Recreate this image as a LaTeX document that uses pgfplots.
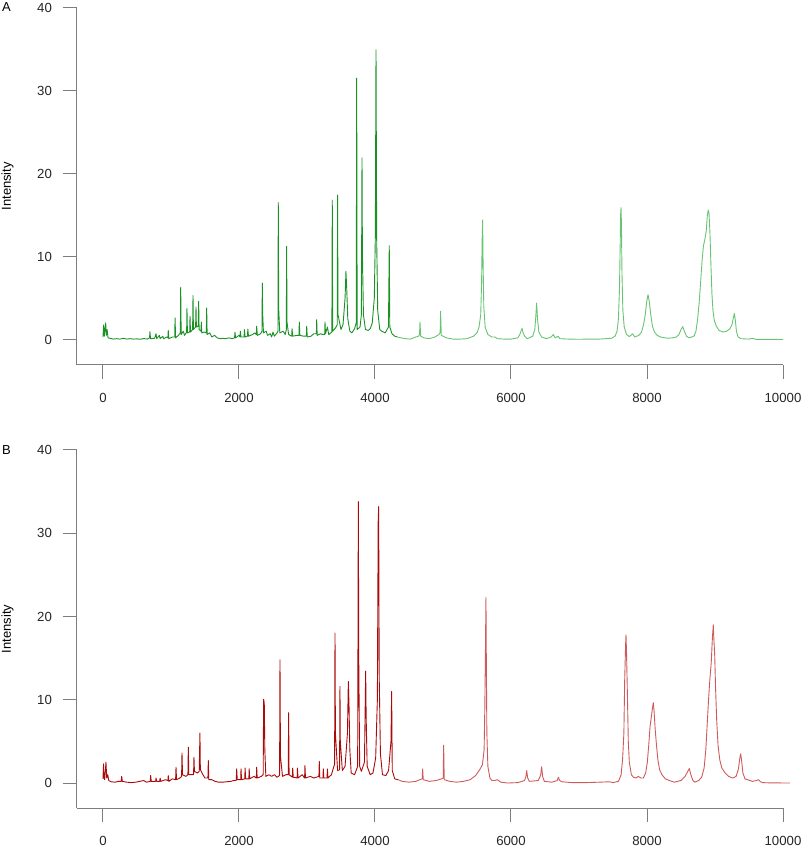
\documentclass[border=0pt]{standalone}
\usepackage{fontspec}
\setmainfont{Liberation Sans}
\usepackage{pgfplots}
\pgfplotsset{compat=1.18}
\definecolor{axgray}{RGB}{125,125,125}
\definecolor{gdark}{RGB}{25,145,35}
\definecolor{glight}{RGB}{105,195,115}
\definecolor{rdark}{RGB}{170,10,10}
\definecolor{rlight}{RGB}{208,90,90}
\pgfplotsset{
  spec/.style={
    scale only axis, width=353pt, height=178.75pt,
    axis lines=left,
    axis line style={-, draw=axgray, line width=0.5pt},
    every outer x axis line/.append style={-},
    every outer y axis line/.append style={-},
    xmin=-382, xmax=10000,
    ymax=40,
    xtick={0,2000,4000,6000,8000,10000},
    ytick={0,10,20,30,40},
    scaled x ticks=false,
    /pgf/number format/1000 sep={},
    /pgf/number format/assume math mode=true,
    tick align=outside,
    major tick length=7pt,
    tick style={draw=axgray, line width=0.5pt},
    minor tick num=0,
    ticklabel style={font=\fontsize{6.6}{7}\selectfont, text=black!85},
    xticklabel shift=3.5pt,
    yticklabel shift=2pt,
    ylabel={Intensity},
    ylabel style={font=\fontsize{6.5}{7}\selectfont, at={(axis description cs:-0.0984,0.5)}, anchor=center, rotate=0},
    clip=false,
    every axis plot/.append style={line width=0.45pt, line join=round, mark=none},
  }
}
\begin{document}
\begin{tikzpicture}
\useasboundingbox (0,0) rectangle (400pt,423pt);
% Panel A
\begin{axis}[spec, ymin=-3.07, at={(38.5pt,240.5pt)}, anchor=south west]
\addplot[gdark] table {
x y
0 0.3
10 1.75
20 0.4
40 2.0
50 0.5
60 1.2
75 0.2
100 0.15
150 0.05
200 0.1
250 0.05
300 0.15
350 0.05
400 0.1
450 0.05
500 0.08
550 0.03
600 0.12
650 0.05
685 0.2
690 0.95
700 0.1
760 0.15
780 0.7
790 0.1
830 0.5
840 0.1
880 0.4
890 0.1
940 0.3
955 0.2
960 1.1
968 0.1
1020 0.3
1055 0.3
1060 2.6
1068 0.2
1110 0.5
1138 0.8
1143 6.3
1150 0.6
1180 1.0
1200 0.5
1230 0.9
1235 3.75
1242 0.8
1275 0.9
1280 2.8
1287 0.9
1318 1.2
1324 5.3
1330 1.2
1362 1.5
1368 3.9
1374 1.5
1400 1.6
1407 4.6
1414 1.2
1441 1.0
1446 2.1
1452 0.8
1490 0.9
1520 0.8
1525 3.8
1532 0.6
1570 0.8
1600 0.3
1640 0.5
1680 0.2
1720 0.1
1760 0.15
1800 0.1
1850 0.2
1900 0.1
1935 0.2
1941 0.9
1950 0.2
2000 0.5
2015 0.3
2020 1.0
2030 0.3
2075 0.3
2080 1.2
2090 0.3
2125 0.4
2130 1.25
2140 0.4
2200 0.6
2230 0.8
2255 0.6
2260 1.6
2270 0.5
2320 0.7
2338 1.0
2343 6.8
2348 3.2
2360 0.8
2400 1.0
2420 0.5
2460 0.7
2480 0.3
2500 0.9
2520 0.4
2540 0.6
2560 0.8
2573 1.0
2578 16.5
2584 3.7
2600 0.8
2650 1.0
2680 0.6
2696 1.2
2701 11.2
2706 2.1
2730 0.6
2775 0.4
2780 1.3
2790 0.4
2850 0.5
2882 0.5
2887 2.1
2895 0.5
2950 0.4
2990 0.4
2996 1.6
3004 0.3
3060 0.4
3100 0.7
3138 0.7
3143 2.4
3150 0.5
3200 0.7
3230 0.6
3260 0.6
3265 2.1
3272 0.7
3300 1.5
3320 0.6
3366 0.9
3372 16.8
3378 1.0
3420 1.4
3445 1.8
3450 17.4
3456 3.0
3500 1.2
3530 1.8
3560 5.0
3573 8.2
3585 6.0
3600 2.5
3630 1.0
3660 0.8
3700 1.3
3724 2.0
3731 31.5
3738 1.2
3780 1.5
3800 3.0
3809 21.9
3815 10.5
3830 3.0
3860 1.2
3900 1.1
3930 1.3
3960 2.0
3990 5.0
4005 12.4
4015 34.9
4025 12.0
4040 3.5
4070 1.2
4100 1.0
4150 0.8
4198 1.5
4210 11.3
4218 1.5
4250 0.7
4290 0.4
4330 0.3
};
\addplot[glight] table {
x y
4330 0.3
4380 0.2
4450 0.1
4520 0.05
4600 0.3
4640 0.4
4655 0.6
4662 2.1
4672 0.4
4720 0.2
4800 0.1
4880 0.3
4940 0.6
4958 0.8
4965 3.4
4975 0.5
5050 0.2
5150 0.05
5250 0.05
5350 0.1
5450 0.4
5500 0.8
5530 1.5
5555 3.0
5568 7
5576 12
5583 14.4
5590 9
5600 4
5620 1.5
5660 0.6
5720 0.3
5765 0.3
5800 0.1
5900 0.05
6000 0.05
6100 0.2
6130 0.6
6150 1.1
6162 1.35
6175 0.9
6200 0.4
6240 0.1
6320 0.4
6350 1.2
6365 2.8
6377 4.4
6390 2.5
6410 0.9
6450 0.3
6520 0.1
6590 0.3
6622 0.6
6650 0.2
6690 0.4
6720 0.1
6850 0.05
7000 0.03
7150 0.05
7300 0.05
7480 0.15
7530 0.4
7560 1.0
7580 2.5
7595 6
7605 11
7612 15.0
7618 15.9
7624 14
7632 8
7645 3.5
7665 1.5
7700 0.6
7740 0.35
7790 0.7
7820 0.3
7880 0.5
7920 0.9
7950 1.8
7975 3.0
7995 4.5
8015 5.4
8035 4.5
8055 3.0
8080 1.6
8110 0.9
8150 0.5
8200 0.3
8300 0.15
8380 0.2
8430 0.3
8470 0.6
8500 1.2
8525 1.55
8550 1.0
8580 0.4
8620 0.2
8690 0.4
8720 1.0
8745 2.5
8765 4.2
8785 6.5
8810 9.5
8830 11.3
8850 12.0
8870 13.0
8888 15.0
8900 15.6
8912 15.2
8925 13.0
8940 9.0
8955 5.5
8970 3.5
8990 2.3
9020 1.6
9060 1.1
9120 0.9
9170 1.0
9220 1.3
9250 1.8
9270 2.6
9284 3.15
9298 2.4
9315 1.0
9340 0.3
9380 0.1
9500 0.05
9554 0.15
9600 0.02
9800 0.02
10000 0.0
};
\end{axis}
% Panel B
\begin{axis}[spec, ymin=-3.0, height=179pt, at={(38.5pt,19pt)}, anchor=south west]
\addplot[rdark] table {
x y
0 0.5
8 2.3
15 0.7
25 0.4
44 2.5
55 0.6
70 1.0
85 0.3
120 0.15
180 0.1
230 0.2
268 0.2
275 0.8
285 0.2
350 0.1
420 0.05
480 0.1
540 0.2
600 0.3
640 0.1
695 0.2
701 0.9
710 0.2
775 0.2
780 0.6
790 0.2
835 0.2
840 0.6
850 0.2
920 0.4
955 0.3
960 0.9
970 0.2
1020 0.5
1068 0.4
1074 1.9
1082 0.4
1130 0.6
1156 0.8
1162 3.6
1170 1.0
1220 0.8
1249 1.0
1255 4.3
1262 1.0
1310 1.0
1332 1.0
1338 3.1
1345 1.4
1390 1.2
1415 1.4
1420 3.5
1426 6.0
1432 1.6
1470 1.0
1500 0.6
1543 0.6
1549 2.7
1556 0.4
1600 0.4
1650 0.2
1700 0.1
1760 0.1
1820 0.15
1880 0.2
1920 0.3
1960 0.3
1966 1.7
1975 0.4
2025 0.4
2030 1.7
2038 0.4
2085 0.5
2090 1.8
2098 0.5
2145 0.5
2150 1.7
2158 0.5
2220 0.8
2255 0.6
2260 1.9
2268 0.6
2330 0.8
2356 1.0
2362 10.05
2372 9.6
2380 4.0
2395 0.8
2440 1.0
2480 0.8
2520 1.0
2560 0.7
2597 0.9
2603 14.8
2610 3.2
2640 0.8
2690 1.0
2724 1.0
2730 8.45
2737 1.0
2785 0.7
2790 1.8
2798 0.7
2855 0.6
2860 1.8
2868 0.6
2930 1.0
2965 0.6
2970 2.1
2978 0.6
3050 0.8
3100 0.6
3175 0.8
3181 2.6
3188 0.6
3235 0.6
3240 1.7
3248 0.6
3295 0.6
3300 1.7
3308 0.6
3360 1.0
3395 2.0
3406 2.2
3412 18.0
3418 6.0
3450 1.5
3479 1.6
3485 11.6
3490 5.0
3520 1.5
3560 2.0
3595 6.0
3608 12.2
3618 9.4
3630 4.0
3650 1.2
3700 1.0
3745 2.0
3755 33.8
3762 14
3775 2.0
3800 1.4
3845 2.5
3863 13.45
3870 8.0
3885 2.0
3930 1.0
3970 1.2
4010 3.0
4035 10
4047 31.4
4054 33.2
4062 12.8
4080 3.5
4110 1.0
4160 0.9
4200 1.5
4235 5.0
4245 11.0
4254 1.5
4290 0.5
4340 0.4
};
\addplot[rlight] table {
x y
4340 0.4
4400 0.2
4500 0.1
4600 0.2
4660 0.4
4694 0.5
4701 1.7
4710 0.4
4800 0.2
4900 0.3
4980 0.5
5003 0.6
5010 4.55
5018 0.4
5100 0.2
5200 0.1
5300 0.2
5400 0.4
5480 0.9
5540 1.6
5580 2.2
5605 4
5615 9
5622 14
5628 19
5632 22.3
5638 14
5645 6
5660 2.0
5690 0.6
5720 0.3
5760 0.3
5800 0.4
5850 0.1
5950 0.0
6100 0.05
6200 0.3
6220 0.8
6231 1.5
6245 0.6
6270 0.2
6400 0.3
6435 0.9
6451 1.95
6465 0.8
6490 0.2
6600 0.1
6680 0.3
6696 0.7
6715 0.3
6750 0.15
6900 0.05
7100 0.05
7300 0.1
7450 0.15
7500 0.05
7580 0.2
7620 1.0
7642 3.0
7660 6
7672 12.4
7685 16.5
7691 17.8
7698 16
7711 11
7725 5
7740 2.5
7770 1.0
7800 0.7
7840 0.6
7872 0.8
7910 0.6
7946 0.6
7980 1.2
8005 2.5
8025 4.5
8045 6.8
8065 8.0
8080 9.0
8093 9.65
8105 8.5
8120 6.5
8140 4.5
8160 2.8
8185 1.6
8220 1.0
8270 0.5
8330 0.3
8400 0.1
8500 0.3
8560 0.8
8600 1.4
8622 1.75
8645 1.0
8675 0.3
8706 0.1
8760 0.3
8804 0.7
8840 1.8
8865 4.0
8885 7.0
8905 10.0
8925 12.5
8945 14.5
8962 17.5
8975 19.0
8985 17
8995 15.5
9010 11.0
9025 7.5
9045 4.5
9070 2.8
9100 1.8
9150 1.2
9200 0.8
9260 0.6
9310 0.8
9345 1.7
9365 3.0
9378 3.5
9390 2.8
9410 1.2
9441 0.5
9550 0.2
9610 0.3
9637 0.4
9670 0.15
9700 0.05
9800 0.02
10100 0.0
};
\end{axis}
\node[font=\fontsize{6.5}{7}\selectfont] at (3.25pt,419.5pt) {A};
\node[font=\fontsize{6.5}{7}\selectfont] at (3.25pt,198pt) {B};
\end{tikzpicture}
\end{document}
